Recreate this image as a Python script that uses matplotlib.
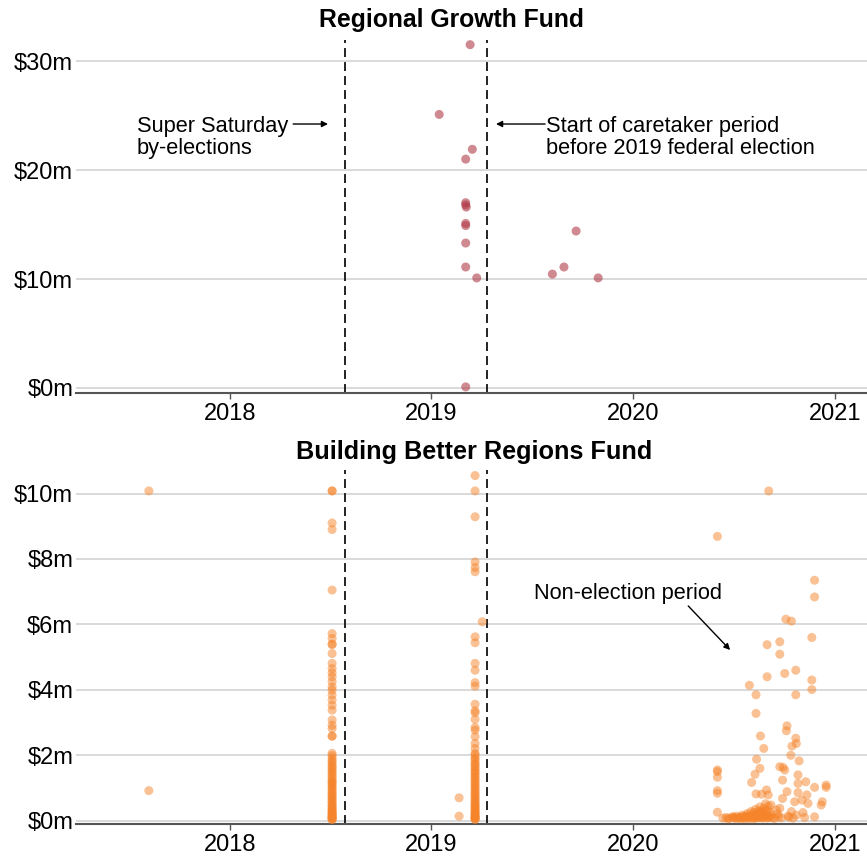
import numpy as np
import pandas as pd
import matplotlib
matplotlib.use("Agg")
import matplotlib.pyplot as plt
import matplotlib.dates as mdates

plt.rcParams['font.family'] = ['Liberation Sans', 'DejaVu Sans']

# Regional Growth Fund grants, $m
rgf_dates = ["2019-01-15", "2019-03-12", "2019-03-16", "2019-03-04", "2019-03-04",
             "2019-03-05", "2019-03-04", "2019-03-04", "2019-03-04", "2019-03-04",
             "2019-03-04", "2019-03-24", "2019-03-04", "2019-08-08", "2019-08-29",
             "2019-09-20", "2019-10-30"]
rgf_values = [25.1, 31.5, 21.9, 21.0, 17.0, 16.6, 16.8, 15.1, 14.9, 13.3, 11.1, 10.1,
              0.1, 10.45, 11.1, 14.4, 10.1]

# Building Better Regions Fund grants, $m
bbrf_r1_dates = ["2017-08-07", "2017-08-07"]
bbrf_r1_values = [10.08, 0.92]

bbrf_r2_date = "2018-07-05"
bbrf_r2_values = [10.08, 10.08, 9.10, 8.90, 7.05, 5.72, 5.57, 5.40, 5.38, 5.11, 4.81,
                  4.65, 4.52, 4.40, 4.25, 4.09, 3.99, 3.84, 3.69, 3.53, 3.38, 3.08, 2.92,
                  2.82, 2.59, 2.58, 2.06, 1.99, 1.91, 1.84, 1.79, 1.71, 1.66, 1.61, 1.54,
                  1.49, 1.43, 1.36, 1.31, 1.24, 1.19, 1.17, 1.11, 1.06, 1.02, 0.95, 0.91,
                  0.84, 0.81, 0.75, 0.70, 0.67, 0.61, 0.57, 0.53, 0.47, 0.44, 0.41, 0.35,
                  0.33, 0.29, 0.26, 0.22, 0.21, 0.17, 0.15, 0.12, 0.11, 0.08, 0.06, 0.05,
                  0.03]

bbrf_r3_date = "2019-03-21"
bbrf_r3_values = [10.55, 10.08, 9.29, 7.91, 7.74, 7.61, 5.62, 5.44, 4.81, 4.60, 4.22,
                  4.11, 3.56, 3.36, 3.30, 3.10, 2.85, 2.77, 2.57, 2.36, 2.21, 2.06, 2.01,
                  1.92, 1.88, 1.79, 1.75, 1.68, 1.64, 1.56, 1.52, 1.45, 1.41, 1.33, 1.30,
                  1.22, 1.18, 1.11, 1.07, 1.00, 0.96, 0.89, 0.85, 0.78, 0.75, 0.68, 0.65,
                  0.58, 0.56, 0.49, 0.47, 0.41, 0.39, 0.33, 0.31, 0.26, 0.24, 0.19, 0.16,
                  0.13, 0.12, 0.09, 0.07, 0.05, 0.04]
bbrf_r3_extra_dates = ["2019-04-03", "2019-02-20", "2019-02-20"]
bbrf_r3_extra_values = [6.08, 0.70, 0.14]

bbrf_r4_dates = [
    "2020-06-02", "2020-09-03", "2020-11-25", "2020-11-25", "2020-10-04", "2020-10-14",
    "2020-11-20", "2020-08-31", "2020-09-23", "2020-09-23", "2020-10-22", "2020-10-02",
    "2020-08-31", "2020-07-30", "2020-11-20", "2020-11-20", "2020-08-11", "2020-10-22",
    "2020-08-11", "2020-10-06", "2020-10-05", "2020-08-19", "2020-10-22",
    "2020-06-02", "2020-06-02", "2020-06-02", "2020-06-02", "2020-06-02", "2020-06-02",
    "2020-08-12", "2020-08-18", "2020-08-09", "2020-08-03", "2020-08-25",
    "2020-10-13", "2020-10-15", "2020-10-23", "2020-10-28", "2020-09-23", "2020-09-29",
    "2020-10-02", "2020-09-28", "2020-10-26", "2020-11-09", "2020-10-26", "2020-12-16",
    "2020-12-16", "2020-11-25", "2020-10-06", "2020-10-26", "2020-08-11", "2020-08-21",
    "2020-08-30", "2020-09-02", "2020-11-11", "2020-09-28", "2020-12-09", "2020-12-07",
    "2020-11-13", "2020-10-20", "2020-11-02", "2020-09-07", "2020-09-17", "2020-09-23",
    "2020-10-14", "2020-11-04", "2020-11-25", "2020-10-08", "2020-10-23", "2020-09-21",
    "2020-09-19",
    "2020-06-12", "2020-06-18", "2020-06-24", "2020-06-29", "2020-07-03", "2020-07-07",
    "2020-07-10", "2020-07-14", "2020-07-17", "2020-07-20", "2020-07-23", "2020-07-26",
    "2020-07-28", "2020-07-31", "2020-08-02", "2020-08-04", "2020-08-06", "2020-08-08",
    "2020-08-10", "2020-08-12", "2020-08-14", "2020-08-16", "2020-08-18", "2020-08-20",
    "2020-08-22", "2020-08-24", "2020-08-26", "2020-08-28", "2020-08-30", "2020-09-01",
    "2020-09-03", "2020-09-05", "2020-09-07", "2020-09-10",
    "2020-06-21", "2020-07-01", "2020-07-05", "2020-07-12", "2020-07-15", "2020-07-19",
    "2020-07-22", "2020-07-25", "2020-07-29", "2020-08-01", "2020-08-05", "2020-08-07",
    "2020-08-09", "2020-08-13", "2020-08-15", "2020-08-17", "2020-08-19", "2020-08-21",
    "2020-08-23", "2020-08-25", "2020-08-27", "2020-08-29", "2020-08-31", "2020-09-02",
    "2020-09-04", "2020-09-14", "2020-09-26", "2020-10-10", "2020-10-17", "2020-11-07"]
bbrf_r4_values = [
    8.69, 10.08, 7.35, 6.84, 6.16, 6.10,
    5.60, 5.38, 5.47, 5.09, 4.60, 4.50,
    4.40, 4.14, 4.30, 4.01, 3.85, 3.85,
    3.28, 2.90, 2.75, 2.59, 2.52,
    1.55, 1.50, 1.33, 0.92, 0.84, 0.26,
    1.88, 1.60, 1.42, 1.17, 2.21,
    2.00, 2.28, 2.36, 1.83, 1.65, 1.63,
    1.55, 1.24, 1.40, 1.19, 1.14, 1.09,
    1.02, 1.02, 0.89, 0.86, 0.82, 0.81,
    0.94, 0.79, 0.79, 0.68, 0.58, 0.48,
    0.53, 0.58, 0.63, 0.48, 0.33, 0.38,
    0.28, 0.25, 0.12, 0.14, 0.17, 0.12,
    0.20,
    0.08, 0.10, 0.07, 0.12, 0.09, 0.14,
    0.08, 0.11, 0.17, 0.09, 0.13, 0.22,
    0.10, 0.16, 0.28, 0.12, 0.19, 0.09,
    0.35, 0.14, 0.24, 0.11, 0.42, 0.18,
    0.30, 0.10, 0.21, 0.52, 0.15, 0.33,
    0.12, 0.25, 0.16, 0.09,
    0.06, 0.11, 0.07, 0.10, 0.06, 0.12,
    0.07, 0.15, 0.06, 0.13, 0.08, 0.26,
    0.07, 0.20, 0.09, 0.31, 0.10, 0.27,
    0.08, 0.38, 0.12, 0.29, 0.08, 0.45,
    0.10, 0.07, 0.09, 0.11, 0.08, 0.10]

SUPER_SATURDAY = "2018-07-28"
CARETAKER = "2019-04-11"

COLOR_RGF = "#b03a48"
COLOR_BBRF = "#f5842a"
GRID = "#cfcfcf"
AXIS = "#555555"
DASH = "#222222"

XMIN, XMAX = pd.Timestamp("2017-03-28"), pd.Timestamp("2021-02-28")

fig = plt.figure(figsize=(8.67, 8.56), dpi=100)
ax_top = fig.add_axes([76 / 867, 1 - 393 / 856, 791 / 867, 353 / 856])
ax_bot = fig.add_axes([76 / 867, 1 - 824 / 856, 791 / 867, 354 / 856])

ax_top.scatter(pd.to_datetime(rgf_dates), rgf_values, s=42, color=COLOR_RGF,
               alpha=0.6, edgecolors='none', zorder=3)

bb_dates = (bbrf_r1_dates + [bbrf_r2_date] * len(bbrf_r2_values)
            + [bbrf_r3_date] * len(bbrf_r3_values) + bbrf_r3_extra_dates + bbrf_r4_dates)
bb_values = (bbrf_r1_values + bbrf_r2_values + bbrf_r3_values
             + bbrf_r3_extra_values + bbrf_r4_values)
ax_bot.scatter(pd.to_datetime(bb_dates), bb_values, s=42, color=COLOR_BBRF,
               alpha=0.5, edgecolors='none', zorder=3)

ax_top.set_ylim(-0.46, 31.93)
ax_top.set_yticks([0, 10, 20, 30])
ax_top.set_yticklabels(['$0m', '$10m', '$20m', '$30m'])
ax_bot.set_ylim(-0.10, 10.72)
ax_bot.set_yticks([0, 2, 4, 6, 8, 10])
ax_bot.set_yticklabels(['$0m', '$2m', '$4m', '$6m', '$8m', '$10m'])

for ax in [ax_top, ax_bot]:
    ax.set_xlim(XMIN, XMAX)
    ax.xaxis.set_major_locator(mdates.YearLocator())
    ax.xaxis.set_major_formatter(mdates.DateFormatter('%Y'))
    ax.grid(axis='y', color=GRID, lw=1.1, zorder=0)
    ax.set_axisbelow(True)
    for s in ['top', 'right', 'left']:
        ax.spines[s].set_visible(False)
    ax.spines['bottom'].set_color(AXIS)
    ax.spines['bottom'].set_linewidth(1.5)
    ax.tick_params(axis='y', length=0, pad=2, labelsize=17)
    ax.tick_params(axis='x', length=4, width=1, color=AXIS, pad=3, labelsize=17)
    for d in [SUPER_SATURDAY, CARETAKER]:
        ax.axvline(pd.Timestamp(d), color=DASH, lw=1.4, ls=(0, (4.6, 2.6)), zorder=2)

fig.text(451 / 867, 1 - 20 / 856, "Regional Growth Fund", ha='center', va='center',
         fontsize=17.8, fontweight='bold')
fig.text(474 / 867, 1 - 452 / 856, "Building Better Regions Fund", ha='center',
         va='center', fontsize=18.2, fontweight='bold')

arrow = dict(arrowstyle='-|>', color='black', lw=1, mutation_scale=9,
             shrinkA=0, shrinkB=0)
ax_top.text(0.0771, 0.786, "Super Saturday\nby-elections", transform=ax_top.transAxes,
            ha='left', va='top', fontsize=15.7, linespacing=1.12)
ax_top.annotate('', xy=(0.3186, 0.762), xytext=(0.2745, 0.762),
                xycoords='axes fraction', arrowprops=arrow)
ax_top.text(0.594, 0.786, "Start of caretaker period\nbefore 2019 federal election",
            transform=ax_top.transAxes, ha='left', va='top', fontsize=15.7,
            linespacing=1.12)
ax_top.annotate('', xy=(0.531, 0.762), xytext=(0.593, 0.762),
                xycoords='axes fraction', arrowprops=arrow)

ax_bot.text(0.579, 0.65, "Non-election period", transform=ax_bot.transAxes,
            ha='left', va='center', fontsize=15.7)
ax_bot.annotate('', xy=(0.827, 0.4915), xytext=(0.774, 0.616),
                xycoords='axes fraction', arrowprops=arrow)

fig.savefig("out.png", dpi=100)
